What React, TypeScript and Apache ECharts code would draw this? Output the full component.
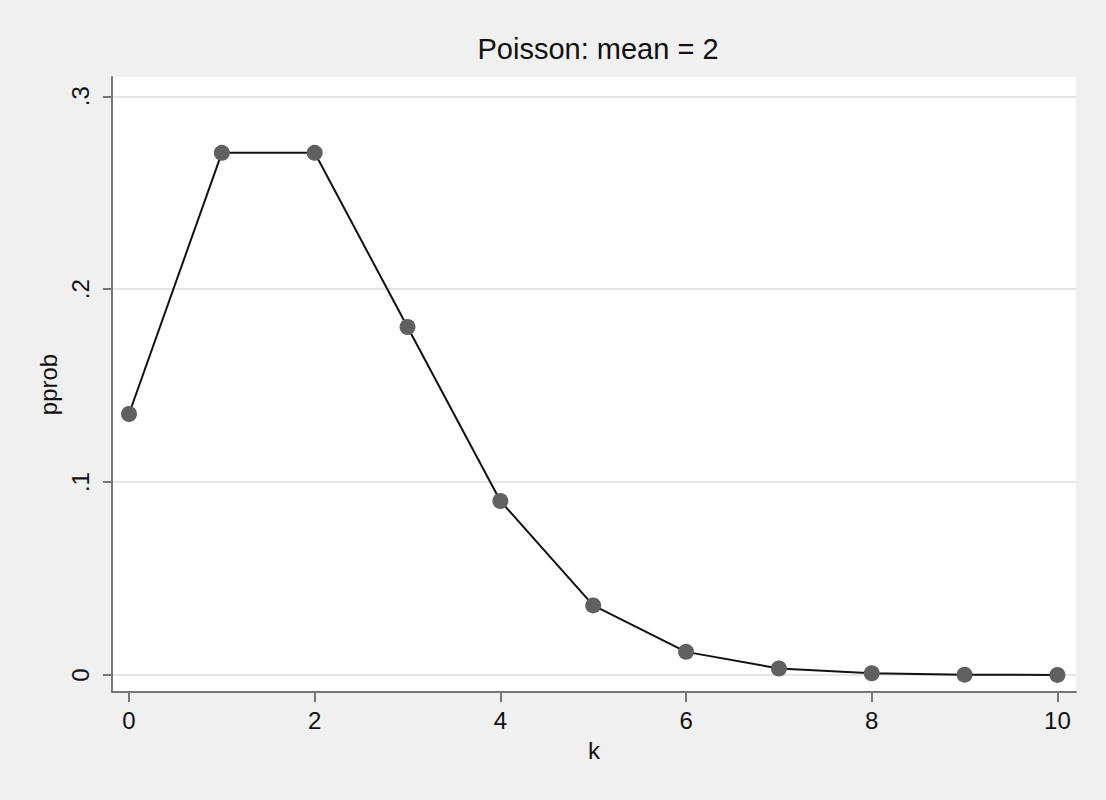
import React, { useEffect, useRef } from "react";
import * as echarts from "echarts";

const kValues = [0, 1, 2, 3, 4, 5, 6, 7, 8, 9, 10];
const pprob = [0.1353, 0.2707, 0.2707, 0.1804, 0.0902, 0.0361, 0.012, 0.0034, 0.0009, 0.0002, 0.00004];
const yTicks = [0, 0.1, 0.2, 0.3];
const yTickLabels = ["0", ".1", ".2", ".3"];
const xTicks = [0, 2, 4, 6, 8, 10];

export default function App() {
  const ref = useRef<HTMLDivElement>(null);
  useEffect(() => {
    if (!ref.current) return;
    const chart = echarts.init(ref.current, null, { renderer: "svg" });
    const font = "'Liberation Sans', Arial, sans-serif";
    chart.setOption({
      animation: false,
      backgroundColor: "#f0f0f0",
      title: {
        text: "Poisson: mean = 2",
        left: 593,
        textAlign: "center",
        top: 29,
        textStyle: { fontFamily: font, fontSize: 29, fontWeight: "normal", color: "#111" },
      },
      grid: { left: 112, top: 77, right: 30, bottom: 108, show: true, backgroundColor: "#ffffff", borderWidth: 0 },
      xAxis: {
        type: "value",
        min: -0.183,
        max: 10.2,
        name: "k",
        nameLocation: "middle",
        nameGap: 46,
        nameTextStyle: { fontFamily: font, fontSize: 24, color: "#111" },
        axisLine: { show: true, onZero: false, lineStyle: { color: "#777", width: 2 } },
        axisTick: { show: true, length: 10, lineStyle: { color: "#777", width: 2 }, customValues: xTicks },
        axisLabel: { fontFamily: font, fontSize: 24, color: "#111", margin: 16, customValues: xTicks, showMinLabel: true, showMaxLabel: true },
        splitLine: { show: false },
      },
      yAxis: {
        type: "value",
        min: -0.0088,
        max: 0.31,
        name: "pprob",
        nameLocation: "middle",
        nameGap: 50,
        nameTextStyle: { fontFamily: font, fontSize: 24, color: "#111" },
        axisLine: { show: true, onZero: false, lineStyle: { color: "#777", width: 2 } },
        axisTick: { show: true, length: 9, lineStyle: { color: "#777", width: 2 }, customValues: yTicks },
        axisLabel: {
          fontFamily: font,
          fontSize: 24,
          color: "#111",
          rotate: 90,
          margin: 20,
          customValues: yTicks,
          formatter: (v: number) => {
            const i = yTicks.findIndex((t) => Math.abs(t - v) < 1e-9);
            return i >= 0 ? yTickLabels[i] : "";
          },
        },
        splitLine: { show: true, lineStyle: { color: "#e6e6e6", width: 2 } },
      },
      series: [
        {
          type: "line",
          data: kValues.map((k, i) => [k, pprob[i]]),
          symbol: "circle",
          symbolSize: 16,
          itemStyle: { color: "#606060" },
          lineStyle: { color: "#111", width: 2 },
        },
      ],
    });
    return () => chart.dispose();
  }, []);
  return <div ref={ref} style={{ position: "fixed", left: 0, top: 0, width: 1106, height: 800 }} />;
}
